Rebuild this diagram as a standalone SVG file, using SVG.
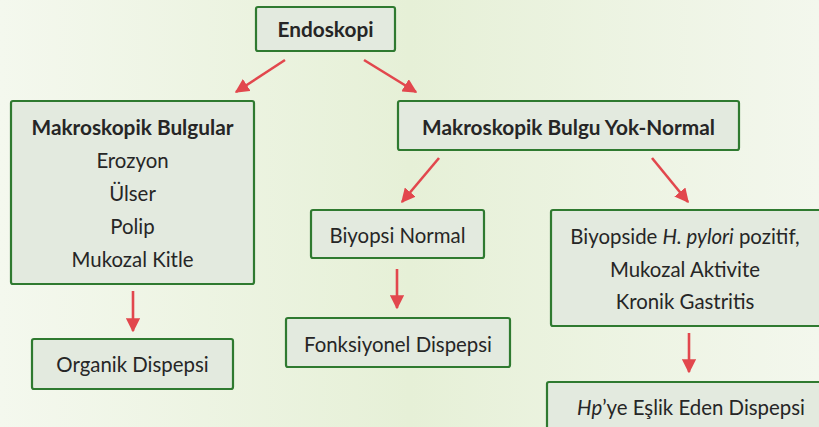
<svg xmlns="http://www.w3.org/2000/svg" width="819" height="427" viewBox="0 0 819 427">
<defs>
<linearGradient id="bg" x1="0" y1="0" x2="1" y2="0">
<stop offset="0" stop-color="#f4f8ee"/>
<stop offset="0.5" stop-color="#e6f0d7"/>
<stop offset="1" stop-color="#f3f7ed"/>
</linearGradient>
<marker id="ah" viewBox="0 0 10 10" refX="9" refY="5" markerWidth="5.5" markerHeight="5.5" markerUnits="strokeWidth" orient="auto">
<path d="M0,0 L10,5 L0,10 z" fill="#e2474d"/>
</marker>
<style>
.box{fill:#e3eadf;stroke:#2f7a30;stroke-width:2.2}
.t{font-family:Lato,"Noto Sans",sans-serif;font-size:20.4px;fill:#262626;text-anchor:middle}
.b{font-weight:bold;font-size:20.8px}
.c{stroke:#e2474d;stroke-width:2.6;fill:none;marker-end:url(#ah)}
</style>
</defs>
<rect width="819" height="427" fill="url(#bg)"/>
<g id="connectors">
<line class="c" x1="285" y1="60" x2="236" y2="92"/>
<line class="c" x1="364" y1="60" x2="416" y2="92"/>
<line class="c" x1="133" y1="291" x2="133" y2="331"/>
<line class="c" x1="439" y1="158" x2="402" y2="202"/>
<line class="c" x1="397" y1="269" x2="397" y2="308"/>
<line class="c" x1="652" y1="158" x2="688" y2="202"/>
<line class="c" x1="689" y1="333" x2="689" y2="372"/>
</g>
<g id="endoskopi">
<rect class="box" x="256" y="7" width="139" height="44" rx="2"/>
<text class="t b" x="325.5" y="37">Endoskopi</text>
</g>
<g id="makroskopik-bulgular">
<rect class="box" x="11" y="101" width="243" height="183" rx="2"/>
<text class="t b" x="132.5" y="135">Makroskopik Bulgular</text>
<text class="t" x="132.5" y="168">Erozyon</text>
<text class="t" x="132.5" y="201">Ülser</text>
<text class="t" x="132.5" y="234">Polip</text>
<text class="t" x="132.5" y="267">Mukozal Kitle</text>
</g>
<g id="organik">
<rect class="box" x="32" y="339" width="201" height="50" rx="2"/>
<text class="t" x="132.5" y="372">Organik Dispepsi</text>
</g>
<g id="bulgu-yok">
<rect class="box" x="398" y="101" width="341" height="49" rx="2"/>
<text class="t b" x="568.5" y="135">Makroskopik Bulgu Yok-Normal</text>
</g>
<g id="biyopsi-normal">
<rect class="box" x="311" y="210" width="173" height="48" rx="2"/>
<text class="t" x="397.5" y="243">Biyopsi Normal</text>
</g>
<g id="fonksiyonel">
<rect class="box" x="286" y="318" width="224" height="49" rx="2"/>
<text class="t" x="398" y="352">Fonksiyonel Dispepsi</text>
</g>
<g id="hpylori">
<rect class="box" x="551" y="210" width="280" height="116" rx="2"/>
<text class="t" x="685" y="244">Biyopside <tspan font-style="italic">H. pylori</tspan> pozitif,</text>
<text class="t" x="685" y="277">Mukozal Aktivite</text>
<text class="t" x="685" y="309">Kronik Gastritis</text>
</g>
<g id="hp-dispepsi">
<rect class="box" x="547" y="382" width="284" height="60" rx="2"/>
<text class="t" x="691" y="415"><tspan font-style="italic">Hp</tspan>’ye Eşlik Eden Dispepsi</text>
</g>
</svg>
